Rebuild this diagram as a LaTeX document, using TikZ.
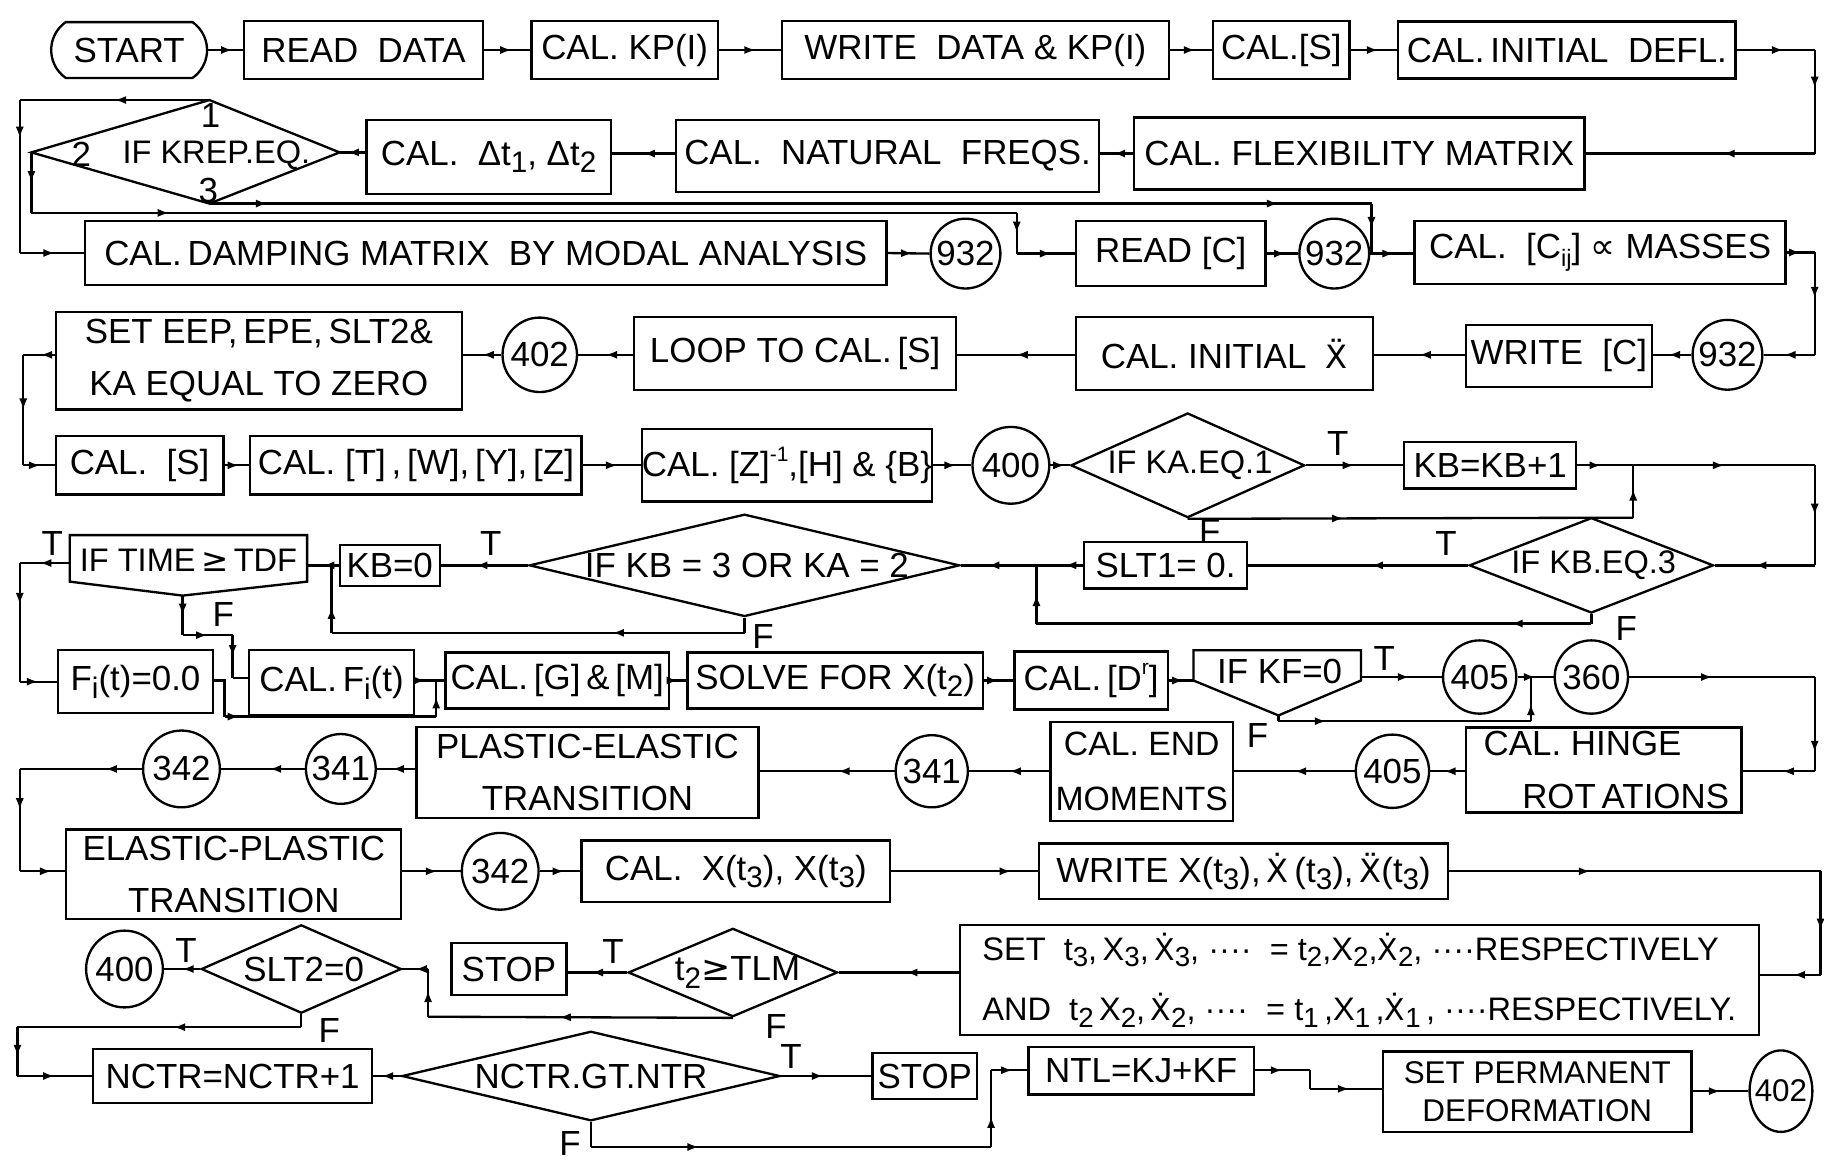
\documentclass[tikz,border=0pt]{standalone}
\usepackage{fontspec}
\setmainfont{Liberation Sans}
\newfontfamily\dvs{DejaVu Sans}
\usetikzlibrary{arrows.meta,decorations.markings,shapes.misc,shapes.geometric}
\newcommand\dn[1]{\raisebox{-0.4ex}{\scalebox{0.85}{#1}}}
\newcommand\upx[1]{\raisebox{0.85ex}{\scalebox{0.6}{#1}}}
\newcommand\xd{{\dvs\scalebox{0.92}{Ẋ}}}
\newcommand\xdd{{\dvs\scalebox{0.92}{Ẍ}}}
\begin{document}
\begin{tikzpicture}[x=1pt,y=-1pt,line width=2pt,
  font=\fontsize{30}{45}\selectfont,
  box/.style={draw,rectangle,inner sep=0pt,align=center},
  cir/.style={draw,circle,inner sep=0pt,minimum size=#1},
  dia/.style={draw,diamond,inner sep=0pt},
  lab/.style={inner sep=0pt},
  ar/.style={postaction={decorate,decoration={markings,mark=at position #1 with {\arrow{Latex[length=10pt,width=7pt]}}}}}]
\fill[white] (0,0) rectangle (1568,997);
\useasboundingbox (0,0) rectangle (1568,997);

% ---------- row 1
\node[draw,rounded rectangle,rounded rectangle arc length=110,minimum width=134pt,minimum height=48pt,inner sep=0pt] (start) at (111,43) {START};
\node[box,minimum width=205pt,minimum height=50pt] (read) at (312.5,43) {READ\ \ DATA};
\node[box,minimum width=160pt,minimum height=50pt] (kp) at (537,43) {CAL.\ KP(I)};
\node[box,minimum width=333pt,minimum height=50pt] (wdata) at (838.5,43) {WRITE\ \ DATA\ \&\ KP(I)};
\node[box,minimum width=117pt,minimum height=50pt] (cals) at (1101.5,43) {CAL.[S]};
\node[box,minimum width=290pt,minimum height=49pt] (defl) at (1347,43) {CAL.\,INITIAL\ \ DEFL.};
\draw[ar=0.7] (start.east) -- (read.west);
\draw[ar=0.6] (read.east) -- (kp.west);
\draw[ar=0.6] (kp.east) -- (wdata.west);
\draw[ar=0.6] (wdata.east) -- (cals.west);
\draw[ar=0.6] (cals.east) -- (defl.west);
\coordinate (c1) at (1560,43);
\coordinate (c2) at (1560,132);
\draw[ar=0.6] (defl.east) -- (c1);
\draw[ar=0.37] (c1) -- (c2);

% ---------- row 2
\node[box,minimum width=210pt,minimum height=64pt] (dt) at (420,135) {CAL.\ \ Δt\dn{1},\ Δt\dn{2}};
\node[box,minimum width=364pt,minimum height=62pt] (freqs) at (763,134) {CAL.\ \ NATURAL\ \ FREQS.};
\node[box,minimum width=387pt,minimum height=62pt] (flex) at (1168.5,132) {CAL.\ FLEXIBILITY\ MATRIX};
\draw[ar=0.4] (c2) -- (c2 -| flex.east);
\coordinate (krepL) at (27,131);
\coordinate (krepT) at (180,86);
\coordinate (krepR) at (292,131);
\coordinate (krepB) at (180,175);
\draw (krepL) -- (krepT) -- (krepR) -- (krepB) -- cycle;
\node[lab,font=\fontsize{28}{34}\selectfont] (krep) at (186,133) {IF KREP.EQ.};
\node[lab] (kone) at (181,99) {1};
\node[lab] (ktwo) at (70,133) {2};
\node[lab] (kthree) at (179,164) {3};
\draw[ar=0.6] (flex.west) -- (flex.west -| freqs.east);
\draw[ar=0.5] (freqs.west |- flex.west) -- (flex.west -| dt.east);
\draw[ar=0.7] (dt.west |- krepR) -- (krepR);

% ---------- row 3
\node[box,minimum width=689pt,minimum height=55pt] (damp) at (417.5,217.5) {CAL.\,DAMPING\ MATRIX\ \ BY\ MODAL\ ANALYSIS};
\node[cir=60pt] (c932a) at (830,218) {932};
\node[box,minimum width=163pt,minimum height=56pt] (readc) at (1006.5,218) {READ\ [C]};
\node[cir=60pt] (c932b) at (1147,218) {932};
\node[box,minimum width=319pt,minimum height=54pt] (cii) at (1375.5,217) {CAL.\ \ [C\dn{\scalebox{0.8}{ij}}]\ {\dvs ∝}\ MASSES};
% branch 1
\coordinate (b1) at (17,86);
\coordinate (b2) at (17,217.5);
\draw[ar=0.5] (krepT) -- (b1);
\draw[ar=0.25] (b1) -- (b2);
\draw[ar=0.55] (b2) -- (damp.west);
% branch 2
\coordinate (b3) at (27,183);
\coordinate (b4) at (874,183);
\coordinate (b5) at (874,218);
\draw[ar=0.5] (krepL) -- (b3);
\draw[ar=0.14] (b3) -- (b4);
\draw[ar=0.5] (b4) -- (b5);
\draw[ar=0.6] (b5) -- (readc.west);
% branch 3
\coordinate (b6) at (1179,175);
\coordinate (b7) at (1179,218);
\draw[ar=0.05,ar=0.92] (krepB) -- (b6);
\draw[ar=0.5] (b6) -- (b7);
\draw[ar=0.6] (damp.east) -- (c932a.west);
\draw[ar=0.6] (readc.east) -- (c932b.west);
\draw[ar=0.55] (c932b.east) -- (c932b.east -| cii.west);
\coordinate (c3) at (1560,217);
\coordinate (c4) at (1560,305);
\draw[ar=0.5] (cii.east) -- (c3);
\draw[ar=0.45] (c3) -- (c4);

% ---------- row 4
\node[cir=60pt] (c932c) at (1485,305) {932};
\node[box,minimum width=160pt,minimum height=53pt] (writec) at (1340,306) {WRITE\ \ [C]};
\node[box,minimum width=255pt,minimum height=63pt] (initx) at (1052.5,304) {CAL.\ INITIAL\ \ \xdd};
\node[box,minimum width=277pt,minimum height=63pt] (loop) at (683.5,304) {LOOP\ TO\ CAL.\,[S]};
\node[cir=64pt] (c402a) at (464,305) {402};
\node[box,minimum width=349pt,minimum height=84pt] (seteep) at (222.5,310) {SET EEP,\,EPE,\,SLT2\&\\KA\ EQUAL\ TO\ ZERO};
\draw[ar=0.6] (c4) -- (c932c.east);
\draw[ar=0.6] (c932c.west) -- (c932c.west -| writec.east);
\draw[ar=0.5] (writec.west |- c932c) -- (c932c -| initx.east);
\draw[ar=0.5] (initx.west |- c932c) -- (c932c -| loop.east);
\draw[ar=0.5] (loop.west |- c402a) -- (c402a.east);
\draw[ar=0.5] (c402a.west) -- (c402a.west -| seteep.east);
\coordinate (c5) at (20,305);
\coordinate (c6) at (20,400);
\draw[ar=0.45] (c402a.west -| seteep.west) -- (c5);
\draw[ar=0.5] (c5) -- (c6);

% ---------- row 5
\node[box,minimum width=144pt,minimum height=50pt] (cals2) at (120,400) {CAL.\ \ [S]};
\node[box,minimum width=285pt,minimum height=50pt] (ctw) at (357.5,400) {CAL.\ [T]\,,\,[W],\,[Y],\,[Z]};
\node[box,minimum width=247pt,minimum height=62pt] (czh) at (676.5,400) {CAL.\ [Z]\upx{-1},[H]\ \&\ \{B\}};
\node[cir=66pt] (c400a) at (869,400) {400};
\node[dia,minimum width=201pt,minimum height=90pt] (kaeq) at (1021,400) {};
\node[lab,font=\fontsize{28}{34}\selectfont] (kaeqt) at (1023,400) {IF KA.EQ.1};
\node[box,minimum width=148pt,minimum height=40pt] (kbplus) at (1281,400) {KB=KB+1};
\draw[ar=0.55] (c6) -- (cals2.west);
\draw[ar=0.6] (cals2.east) -- (ctw.west);
\draw[ar=0.6] (ctw.east) -- (czh.west);
\draw[ar=0.6] (czh.east) -- (c400a.west);
\draw[ar=0.75] (c400a.east) -- (kaeq.west);
\draw[ar=0.5] (kaeq.east) -- (kbplus.west);
\node[lab] (t1) at (1150,381) {T};
\coordinate (c7) at (1560,400);
\coordinate (j1) at (1404,400);
\coordinate (j2) at (1404,445);
\draw[ar=0.1,ar=0.62] (kbplus.east) -- (c7);
\draw[ar=0.35] (kaeq.south) -- (j2);
\draw[ar=0.55] (j2) -- (j1);
\node[lab] (f1) at (1040,457) {F};

% ---------- row 6
\node[dia,minimum width=210pt,minimum height=82pt] (kbeq3) at (1368,486) {};
\node[lab,font=\fontsize{28}{34}\selectfont] (kbeq3t) at (1370,486) {IF KB.EQ.3};
\node[box,minimum width=140pt,minimum height=40pt] (slt1) at (1002,486) {SLT1=\ 0.};
\node[dia,minimum width=370pt,minimum height=88pt] (kb3or) at (640,486) {};
\node[lab] (kb3ort) at (642,486) {IF KB = 3 OR KA = 2};
\node[box,minimum width=86pt,minimum height=35pt] (kb0) at (335,486) {KB=0};
\coordinate (c8) at (1560,486);
\draw[ar=0.5] (c7) -- (c8);
\draw[ar=0.6] (c8) -- (kbeq3.east);
\draw[ar=0.44] (kbeq3.west) -- (kbeq3.west -| slt1.east);
\node[lab] (t2) at (1243,467) {T};
\draw[ar=0.15,ar=0.78] (slt1.west) -- (slt1.west -| kb3or.east);
\coordinate (d1) at (1368,536);
\coordinate (d2) at (891,536);
\coordinate (d3) at (891,486);
\draw (kbeq3.south) -- (d1);
\draw[ar=0.145] (d1) -- (d2);
\draw[ar=0.5] (d2) -- (d3);
\node[lab] (f2) at (1398,540) {F};
\draw[ar=0.6] (kb3or.west) -- (kb3or.west -| kb0.east);
\node[lab] (t3) at (422,467) {T};
% IF TIME pentagon
\coordinate (tmL) at (60,484);
\coordinate (tmR) at (264,486);
\coordinate (tmB) at (157,512);
\draw (60,460) -- (264,460) -- (264,500) -- (tmB) -- (60,500) -- cycle;
\node[lab,font=\fontsize{28}{34}\selectfont] (iftime) at (162,482) {IF TIME\,{\dvs ≥}\,TDF};
\draw[ar=0.5] (kb0.west) -- (tmR);
\coordinate (j3) at (285,544);
\coordinate (j4) at (285,486);
\coordinate (j5) at (640,544);
\draw (kb3or.south) -- (j5);
\draw[ar=0.32] (j5) -- (j3);
\draw[ar=0.38] (j3) -- (j4);
\node[lab] (f3) at (656,547) {F};
\coordinate (e1) at (17,484);
\coordinate (e2) at (17,586);
\draw[ar=0.6] (tmL) -- (e1);
\draw[ar=0.35] (e1) -- (e2);
\node[lab] (t4) at (45,467) {T};
\coordinate (e3) at (157,546);
\coordinate (e4) at (200,546);
\coordinate (e5) at (200,583);
\draw[ar=0.5] (tmB) -- (e3);
\draw[ar=0.5] (e3) -- (e4);
\draw[ar=0.5] (e4) -- (e5);
\node[lab] (f4) at (192,528) {F};

% ---------- row 7
\node[box,minimum width=133pt,minimum height=54pt] (fi0) at (116.5,586) {F\dn{i}(t)=0.0};
\node[box,minimum width=142pt,minimum height=56pt] (cfi) at (285,587) {CAL.\,F\dn{i}(t)};
\node[box,minimum width=192pt,minimum height=48pt] (cgm) at (479,585) {CAL.\,[G]\,\&\,[M]};
\node[box,minimum width=254pt,minimum height=48pt] (solve) at (718,585) {SOLVE\ FOR\ X(t\dn{2})};
\node[box,minimum width=132pt,minimum height=50pt] (cd) at (938,585) {CAL.\,[D\upx{r}]};
\coordinate (kfL) at (1026,585);
\coordinate (kfR) at (1170,582);
\coordinate (kfB) at (1099,615);
\draw (1026,559) -- (1170,559) -- (1170,585) -- (kfB) -- (kfL) -- cycle;
\node[lab] (ifkf) at (1100,577) {IF KF=0};
\node[cir=63pt] (c405a) at (1272,582) {405};
\node[cir=63pt] (c360) at (1368,582) {360};
\draw[ar=0.5] (e2) -- (fi0.west |- e2);
\draw (e5) -- (e5 -| cfi.west);
\coordinate (g1) at (193,585);
\coordinate (g2) at (193,616);
\coordinate (g3) at (375,616);
\coordinate (g4) at (375,585);
\draw (fi0.east |- g1) -- (g1) -- (g2);
\draw[ar=0.07] (g2) -- (g3);
\draw[ar=0.55] (g3) -- (g4);
\draw[ar=0.35] (cfi.east |- g4) -- (cgm.west |- g4);
\draw[ar=0.5] (cgm.east) -- (solve.west);
\draw[ar=0.5] (solve.east) -- (cd.west);
\draw[ar=0.6] (cd.east) -- (kfL);
\draw[ar=0.6] (kfR) -- (c405a.west);
\node[lab] (t5) at (1190,566) {T};
\coordinate (h3) at (1099,620);
\coordinate (h4) at (1316,620);
\coordinate (h5) at (1316,582);
\draw (kfB) -- (h3);
\draw[ar=0.19] (h3) -- (h4);
\draw[ar=0.4] (h4) -- (h5);
\node[lab] (f5) at (1081,632) {F};
\draw[ar=0.5] (c405a.east) -- (c360.west);
\coordinate (h1) at (1560,582);
\coordinate (h2) at (1560,663);
\draw[ar=0.45] (c360.east) -- (h1);
\draw[ar=0.8] (h1) -- (h2);

% ---------- row 8
\node[box,minimum width=237pt,minimum height=73pt] (hinge) at (1378.5,662) {CAL.\ HINGE\hspace*{36pt}\\\hspace*{38pt}ROT\,ATIONS};
\node[cir=63pt] (c405b) at (1197,663) {405};
\node[box,minimum width=157pt,minimum height=85pt,font=\fontsize{29}{47}\selectfont] (endm) at (981.5,663) {CAL.\ END\\MOMENTS};
\node[cir=62pt] (c341a) at (801,663) {341};
\node[box,minimum width=294pt,minimum height=78pt] (plastic) at (505,664) {PLASTIC-ELASTIC\\TRANSITION};
\node[cir=60pt] (c341b) at (293,661) {341};
\node[cir=66pt] (c342a) at (156,661) {342};
\draw[ar=0.45] (h2) -- (h2 -| hinge.east);
\draw[ar=0.6] (hinge.west |- c405b) -- (c405b.east);
\draw[ar=0.5] (c405b.west) -- (c405b.west -| endm.east);
\draw[ar=0.5] (endm.west |- c341a) -- (c341a.east);
\draw[ar=0.42] (c341a.west) -- (c341a.west -| plastic.east);
\draw[ar=0.6] (plastic.west |- c341b) -- (c341b.east);
\draw[ar=0.42] (c341b.west) -- (c342a.east);
\coordinate (i1) at (17,661);
\coordinate (i2) at (17,749);
\draw[ar=0.3] (c342a.west) -- (i1);
\draw[ar=0.4] (i1) -- (i2);

% ---------- row 9
\node[box,minimum width=288pt,minimum height=77pt] (elastic) at (201,751.5) {ELASTIC-PLASTIC\\TRANSITION};
\node[cir=66pt] (c342b) at (430,749) {342};
\node[box,minimum width=265pt,minimum height=53pt] (cx3) at (632.5,749) {CAL.\ \ X(t\dn{3}),\ X(t\dn{3})};
\node[box,minimum width=352pt,minimum height=48pt] (wx3) at (1069,749) {WRITE\ X(t\dn{3}),\,\xd\,(t\dn{3}),\,\xdd(t\dn{3})};
\draw[ar=0.7] (i2) -- (i2 -| elastic.west);
\draw[ar=0.6] (elastic.east |- c342b) -- (c342b.west);
\draw[ar=0.6] (c342b.east) -- (c342b.east -| cx3.west);
\draw[ar=0.82] (cx3.east) -- (cx3.east -| wx3.west);
\coordinate (m1) at (1565,749);
\coordinate (m2) at (1565,838);
\draw[ar=0.38] (wx3.east) -- (m1);
\draw[ar=0.57] (m1) -- (m2);

% ---------- row 10
\node[box,minimum width=687pt,minimum height=95pt,align=left,font=\fontsize{28}{52}\selectfont] (setbig) at (1168.5,842.5) {SET\ \ t\dn{3},\,X\dn{3},\,\xd\dn{3},\ ····\ \ =\ t\dn{2},X\dn{2},\xd\dn{2},\ ····RESPECTIVELY\\AND\ \ t\dn{2}\,X\dn{2},\,\xd\dn{2},\ ····\ \ =\ t\dn{1}\,,X\dn{1}\,,\xd\dn{1}\,,\ ····RESPECTIVELY.};
\node[dia,minimum width=180pt,minimum height=76pt] (tlm) at (630,836) {};
\node[lab] (tlmt) at (634,836) {t\dn{2}{\dvs ≥}TLM};
\node[box,minimum width=99pt,minimum height=45pt] (stop1) at (437.5,833) {STOP};
\node[dia,minimum width=172pt,minimum height=76pt] (slt2) at (259,833) {};
\node[lab] (slt2t) at (261,833) {SLT2=0};
\node[cir=66pt] (c400b) at (107,833) {400};
\draw[ar=0.45] (m2) -- (m2 -| setbig.east);
\draw[ar=0.44] (setbig.west |- tlm.east) -- (tlm.east);
\draw[ar=0.6] (tlm.west) -- (tlm.west -| stop1.east);
\node[lab] (t7) at (527,818) {T};
\coordinate (n1) at (368,874);
\coordinate (n2) at (368,833);
\draw[ar=0.57] (tlm.south) -- (n1);
\draw[ar=0.55] (n1) -- (n2);
\draw[ar=0.5] (n2) -- (slt2.east);
\node[lab] (f7) at (667,882) {F};
\draw[ar=0.5] (slt2.west) -- (c400b.east);
\node[lab] (t6) at (160,817) {T};
\coordinate (o1) at (259,883);
\coordinate (o2) at (15,883);
\coordinate (o3) at (15,925);
\draw (slt2.south) -- (o1);
\draw[ar=0.45] (o1) -- (o2);
\draw[ar=0.6] (o2) -- (o3);
\node[lab] (f6) at (283,886) {F};

% ---------- row 11
\node[box,minimum width=240pt,minimum height=46pt] (nctr) at (200,925) {NCTR=NCTR+1};
\node[dia,minimum width=325pt,minimum height=77pt] (gt) at (508,925) {};
\node[lab] (gtt) at (508,925) {NCTR.GT.NTR};
\node[box,minimum width=90pt,minimum height=40pt] (stop2) at (795,925) {STOP};
\node[box,minimum width=194pt,minimum height=41pt] (ntl) at (981,920.5) {NTL=KJ+KF};
\node[box,minimum width=265pt,minimum height=69pt,font=\fontsize{27}{33}\selectfont] (perm) at (1321.5,938.5) {SET PERMANENT\\DEFORMATION};
\node[draw,ellipse,minimum width=54pt,minimum height=70pt,inner sep=0pt] (c402b) at (1531,938) {};
\node[lab,font=\fontsize{27}{30}\selectfont] (c402bt) at (1531,938) {402};
\draw[ar=0.5] (o3) -- (nctr.west);
\draw[ar=0.7] (gt.west) -- (gt.west -| nctr.east);
\draw[ar=0.47] (gt.east) -- (gt.east -| stop2.west);
\node[lab] (t8) at (680,908) {T};
\coordinate (p1) at (508,986);
\coordinate (p2) at (852,986);
\coordinate (p3) at (852,920);
\draw (gt.south) -- (p1);
\draw[ar=0.27] (p1) -- (p2);
\draw[ar=0.4] (p2) -- (p3);
\draw[ar=0.6] (p3) -- (p3 -| ntl.west);
\node[lab] (f8) at (490,983) {F};
\coordinate (q1) at (1126,920);
\coordinate (q2) at (1126,936);
\draw[ar=0.5] (ntl.east |- q1) -- (q1);
\draw (q1) -- (q2);
\draw[ar=0.55] (q2) -- (q2 -| perm.west);
\draw[ar=0.5] (perm.east |- c402b) -- (c402b.west);
\end{tikzpicture}
\end{document}
